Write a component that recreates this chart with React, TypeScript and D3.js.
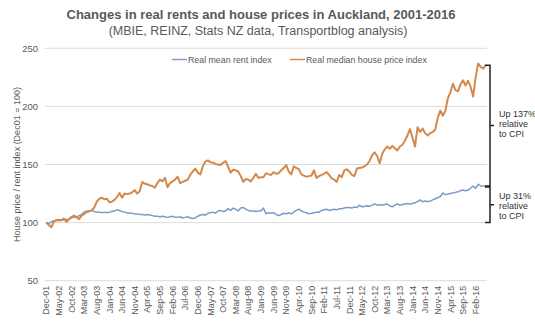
import React from "react";
import * as d3 from "d3";

const houseIndex: number[] = [
  100, 98, 96, 101, 102, 102.5, 102, 103.5, 100.5, 103,
  105, 106, 104.5, 103, 106, 107.5, 109, 110, 110.5, 113,
  118, 120.5, 121.5, 120, 120.5, 117.5, 118, 119.5, 122, 125.5,
  121.5, 125, 124.5, 125, 126, 128, 125, 127, 135, 133.5,
  133, 132, 131.5, 130, 134, 137, 135.5, 138.5, 130.5, 134,
  135.5, 137, 139.5, 134, 135, 136, 137, 141, 144, 146.5,
  143, 141.5, 148.5, 152.5, 153.5, 152, 151.5, 150.5, 150, 149.5,
  151.5, 153, 148, 143, 145.5, 145, 144, 140, 135, 137.5,
  137, 135.5, 138.5, 142, 138.5, 139, 139, 142.5, 141.5, 141,
  143.5, 142, 142.5, 145, 147, 149.5, 144, 141.5, 148.5, 147,
  146, 141.5, 140.5, 139.5, 140, 140.5, 145, 138.5, 140, 141,
  142, 143.5, 141, 138, 137, 135, 141, 139, 145, 146,
  144, 141, 140, 146.5, 147, 147.5, 148.5, 150, 153, 158,
  160.5, 157.5, 151, 159, 163, 165.5, 163.5, 166, 164, 162,
  165.5, 167, 170.5, 175, 180.5, 173, 165.5, 182, 178, 181,
  177, 175, 177, 178, 180, 190, 196.5, 192, 196, 207,
  212, 219.5, 214, 213, 219, 222.5, 218, 222, 217, 208.5,
  225, 237, 234, 232.5, 235.5,
];

const rentIndex: number[] = [
  100, 99, 101, 101.5, 102, 101.5, 102, 102.5, 103, 102.5,
  104, 105, 104.5, 106, 107, 109, 110, 109.5, 110.5, 109.5,
  109, 109, 108.5, 109, 108.5, 109, 109.5, 110, 111, 110.5,
  109.5, 109, 108.5, 108, 108, 107.5, 107.5, 107, 107, 106.5,
  107, 106.5, 106, 105.5, 105.5, 105, 105.5, 105, 104.5, 105,
  105.5, 104.5, 104.5, 105, 104, 104.5, 105, 104, 103.5, 104,
  105.5, 106.5, 107, 106.5, 108, 108.5, 109, 108, 110, 110.5,
  109.5, 110, 112, 110.5, 112.5, 111.5, 110, 112.5, 113, 111.5,
  110.5, 110, 110, 109.5, 110, 110, 112.5, 107.5, 108.5, 108,
  108.5, 107, 106, 107, 108, 107.5, 108.5, 107.5, 109, 110.5,
  111.5, 110, 109, 108.5, 107.5, 108, 108.5, 109, 109, 110.5,
  111, 111.5, 110.5, 111, 111.5, 111, 112, 112, 112.5, 113,
  113, 112.5, 113.5, 113, 115, 113.5, 114, 114.5, 114, 115,
  116, 115, 115.5, 115, 115.5, 116, 114.5, 113.5, 115, 116,
  115, 115.5, 116, 116.5, 116, 116.5, 117, 118, 119.5, 118,
  118.5, 118, 118.5, 119.5, 120.5, 121.5, 122.5, 125.5, 124, 124.5,
  125, 125.5, 126, 126.5, 127.5, 128, 127.5, 128, 129.5, 131.5,
  129.5, 133, 131.5, 131.5, 131,
];

const xTickLabels: string[] = [
  "Dec-01", "May-02", "Oct-02", "Mar-03", "Aug-03", "Jan-04", "Jun-04", "Nov-04",
  "Apr-05", "Sep-05", "Feb-06", "Jul-06", "Dec-06", "May-07", "Oct-07", "Mar-08",
  "Aug-08", "Jan-09", "Jun-09", "Nov-09", "Apr-10", "Sep-10", "Feb-11", "Jul-11",
  "Dec-11", "May-12", "Oct-12", "Mar-13", "Aug-13", "Jan-14", "Jun-14", "Nov-14",
  "Apr-15", "Sep-15", "Feb-16",
];
const xTickStep = 5;
const yTicks: number[] = [50, 100, 150, 200, 250];

const seriesNames = ["Real mean rent index", "Real median house price index"];
const title = "Changes in real rents and house prices in Auckland, 2001-2016";
const subtitle = "(MBIE, REINZ, Stats NZ data, Transportblog analysis)";
const yTitle = "House price / rent index (Dec01 = 100)";

const FONT = "'Liberation Sans', Arial, Helvetica, sans-serif";
const GREY = "#595959";
const BLUE = "#7b9bc8";
const ORANGE = "#d4894a";

export default function App() {
  const W = 535, H = 321;
  const left = 45, right = 487, top = 48.3, bottom = 280.7;
  const n = houseIndex.length;
  const idx = d3.range(n);
  const xb = d3.scaleBand<number>().domain(idx).range([left, right]);
  const x = (i: number) => (xb(i) as number) + xb.bandwidth() / 2;
  const y = d3.scaleLinear().domain([50, 250]).range([bottom, top]);

  const line = d3.line<number>().x((_, i) => x(i)).y((d) => y(d));

  const houseLast = houseIndex[n - 1];
  const rentLast = rentIndex[n - 1];
  const bx = 490;
  const b1t = y(houseLast), b1b = y(rentLast) - 0.5;
  const b2t = y(rentLast) + 0.5, b2b = y(100);
  const bracket = (t: number, b: number) =>
    `M${bx - 5},${t}H${bx}V${b}H${bx - 5}M${bx},${(t + b) / 2}H${bx + 4}`;

  return (
    <svg width={W} height={H} style={{ display: "block", position: "absolute", left: 0, top: 0 }} fontFamily={FONT}>
      <rect width={W} height={H} fill="#fff" />
      <text x={261} y={19} textAnchor="middle" fontSize={13} fontWeight="bold" fill={GREY}>{title}</text>
      <text x={258} y={35} textAnchor="middle" fontSize={12.5} fill={GREY}>{subtitle}</text>

      {yTicks.map((t) => (
        <g key={t}>
          <line x1={left} x2={right} y1={y(t)} y2={y(t)} stroke="#dcdcdc" strokeWidth={1} />
          <text x={38} y={y(t)} dy="0.35em" textAnchor="end" fontSize={9.5} fill={GREY}>{t}</text>
        </g>
      ))}

      <text transform={`translate(17,${(top + bottom) / 2}) rotate(-90)`} textAnchor="middle" fontSize={9} fill={GREY} dy="0.35em">{yTitle}</text>

      {xTickLabels.map((lab, k) => (
        <text key={lab} transform={`translate(${x(k * xTickStep)},${bottom + 5}) rotate(-90)`} textAnchor="end" dy="0.35em" fontSize={9} fill={GREY}>{lab}</text>
      ))}

      <path d={line(rentIndex) || ""} fill="none" stroke={BLUE} strokeWidth={1.5} strokeLinejoin="round" />
      <path d={line(houseIndex) || ""} fill="none" stroke={ORANGE} strokeWidth={2} strokeLinejoin="round" />

      <g fontSize={8.8} fill={GREY}>
        <line x1={172} x2={187} y1={59.5} y2={59.5} stroke={BLUE} strokeWidth={1.5} />
        <text x={188} y={59.5} dy="0.35em">{seriesNames[0]}</text>
        <line x1={290} x2={305} y1={59.5} y2={59.5} stroke={ORANGE} strokeWidth={1.5} />
        <text x={306} y={59.5} dy="0.35em">{seriesNames[1]}</text>
      </g>

      <path d={bracket(b1t, b1b)} fill="none" stroke="#222" strokeWidth={1.5} />
      <path d={bracket(b2t, b2b)} fill="none" stroke="#222" strokeWidth={1.5} />
      <g fontSize={9} fill="#333">
        {["Up 137%", "relative", "to CPI"].map((s, k) => (
          <text key={s} x={499} y={(b1t + b1b) / 2 - 12 + k * 10} dy="0.35em">{s}</text>
        ))}
        {["Up 31%", "relative", "to CPI"].map((s, k) => (
          <text key={s + "2"} x={499} y={(b2t + b2b) / 2 - 9 + k * 10} dy="0.35em">{s}</text>
        ))}
      </g>
    </svg>
  );
}
